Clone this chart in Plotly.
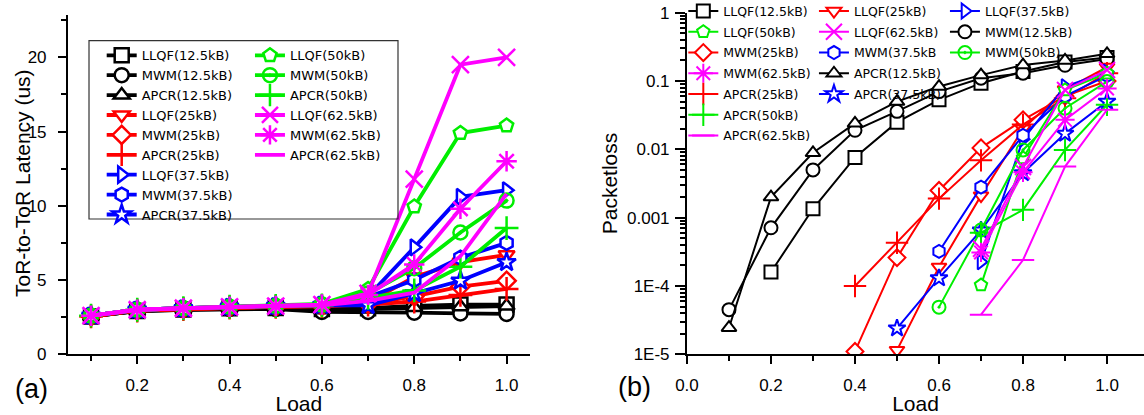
import plotly.graph_objects as go

# ---------------- data ----------------
load = [0.1, 0.2, 0.3, 0.4, 0.5, 0.6, 0.7, 0.8, 0.9, 1.0]

series_names = ["LLQF(12.5kB)", "MWM(12.5kB)", "APCR(12.5kB)",
                "LLQF(25kB)", "MWM(25kB)", "APCR(25kB)",
                "LLQF(37.5kB)", "MWM(37.5kB)", "APCR(37.5kB)",
                "LLQF(50kB)", "MWM(50kB)", "APCR(50kB)",
                "LLQF(62.5kB)", "MWM(62.5kB)", "APCR(62.5kB)"]
# legend labels of panel (b) as printed
loss_names = ["LLQF(12.5kB)", "MWM(12.5kB)", "APCR(12.5kB)",
              "LLQF(25kB)", "MWM(25kB)", "APCR(25kB)",
              "LLQF(37.5kB)", "MWM(37.5kB", "APCR(37.5kB)",
              "LLQF(50kB)", "MWM(50kB)", "APCR(50kB)",
              "LLQF(62.5kB)", "MWM(62.5kB)", "APCR(62.5kB)"]

# (a) ToR-to-ToR latency (us)
lat_llqf_12 = [2.55, 2.92, 3.02, 3.10, 3.12, 3.05, 3.10, 3.25, 3.35, 3.35]
lat_mwm_12 = [2.55, 2.90, 3.00, 3.05, 3.05, 2.85, 2.85, 2.80, 2.75, 2.72]
lat_apcr_12 = [2.55, 2.90, 3.00, 3.08, 3.10, 3.00, 3.05, 3.15, 3.20, 3.25]
lat_llqf_25 = [2.55, 2.95, 3.05, 3.15, 3.20, 3.30, 3.50, 5.20, 6.20, 6.70]
lat_mwm_25 = [2.55, 2.95, 3.05, 3.15, 3.20, 3.25, 3.40, 3.90, 4.55, 4.95]
lat_apcr_25 = [2.55, 2.95, 3.05, 3.15, 3.20, 3.25, 3.35, 3.55, 4.00, 4.40]
lat_llqf_37 = [2.60, 3.00, 3.10, 3.20, 3.25, 3.35, 3.90, 7.20, 10.6, 11.05]
lat_mwm_37 = [2.60, 3.00, 3.10, 3.20, 3.25, 3.35, 3.85, 5.00, 6.50, 7.50]
lat_apcr_37 = [2.60, 3.00, 3.10, 3.20, 3.25, 3.30, 3.30, 4.10, 4.95, 6.20]
lat_llqf_50 = [2.60, 3.00, 3.10, 3.20, 3.25, 3.40, 4.40, 9.95, 14.9, 15.4]
lat_mwm_50 = [2.60, 3.00, 3.10, 3.20, 3.25, 3.35, 4.10, 5.80, 8.20, 10.35]
lat_apcr_50 = [2.60, 3.00, 3.10, 3.20, 3.25, 3.30, 3.80, 4.30, 5.90, 8.50]
lat_llqf_62 = [2.60, 3.00, 3.10, 3.20, 3.25, 3.35, 4.10, 11.8, 19.5, 20.0]
lat_mwm_62 = [2.60, 3.00, 3.10, 3.20, 3.25, 3.35, 4.00, 6.05, 9.80, 13.0]
lat_apcr_62 = [2.60, 3.00, 3.10, 3.20, 3.25, 3.30, 3.60, 4.15, 6.60, 10.8]

# (b) packet loss
pl_llqf_12 = [None, 1.6e-4, 1.35e-3, 7.6e-3, 0.025, 0.053, 0.093, 0.138, 0.19, 0.22]
pl_mwm_12 = [4.5e-5, 7.1e-4, 5.0e-3, 0.019, 0.036, 0.07, 0.11, 0.13, 0.17, 0.21]
pl_apcr_12 = [2.45e-5, 2.0e-3, 8.9e-3, 0.024, 0.05, 0.083, 0.122, 0.171, 0.20, 0.25]
pl_llqf_25 = [None, None, None, None, 1.15e-5, 1.9e-4, 2.1e-3, 0.02, 0.075, 0.16]
pl_mwm_25 = [None, None, None, 1.1e-5, 2.6e-4, 2.5e-3, 0.0105, 0.027, 0.06, 0.10]
pl_apcr_25 = [None, None, None, 1.0e-4, 4.3e-4, 1.9e-3, 6.9e-3, 0.023, 0.056, 0.13]
pl_llqf_37 = [None, None, None, None, None, None, 2.25e-4, 0.014, 0.083, 0.137]
pl_mwm_37 = [None, None, None, None, None, 3.2e-4, 2.8e-3, 0.016, 0.06, 0.12]
pl_apcr_37 = [None, None, None, None, 2.4e-5, 1.3e-4, 6.5e-4, 4.5e-3, 0.017, 0.05]
pl_llqf_50 = [None, None, None, None, None, None, 1.03e-4, 7.5e-3, 0.074, 0.13]
pl_mwm_50 = [None, None, None, None, None, 4.9e-5, 6.6e-4, 9.8e-3, 0.04, 0.098]
pl_apcr_50 = [None, None, None, None, None, None, 6.0e-4, 1.3e-3, 9.8e-3, 0.045]
pl_llqf_62 = [None, None, None, None, None, None, 3.5e-4, 5.5e-3, 0.074, 0.145]
pl_mwm_62 = [None, None, None, None, None, None, 3.1e-4, 4.6e-3, 0.027, 0.078]
pl_apcr_62 = [None, None, None, None, None, None, 3.8e-5, 2.4e-4, 5.6e-3, 0.038]

latency = [lat_llqf_12, lat_mwm_12, lat_apcr_12, lat_llqf_25, lat_mwm_25, lat_apcr_25,
           lat_llqf_37, lat_mwm_37, lat_apcr_37, lat_llqf_50, lat_mwm_50, lat_apcr_50,
           lat_llqf_62, lat_mwm_62, lat_apcr_62]
loss = [pl_llqf_12, pl_mwm_12, pl_apcr_12, pl_llqf_25, pl_mwm_25, pl_apcr_25,
        pl_llqf_37, pl_mwm_37, pl_apcr_37, pl_llqf_50, pl_mwm_50, pl_apcr_50,
        pl_llqf_62, pl_mwm_62, pl_apcr_62]

loss_tickvals = [1e-5, 1e-4, 1e-3, 1e-2, 1e-1, 1]
loss_ticktext = ["1E-5", "1E-4", "0.001", "0.01", "0.1", "1"]

# ---------------- styles ----------------
colors = ["#000000"] * 3 + ["#FF0000"] * 3 + ["#0000FF"] * 3 + ["#00EE00"] * 3 + ["#FF00FF"] * 3
symbols = ["square", "circle", "triangle-up",
           "triangle-down", "diamond", "cross-thin",
           "triangle-right", "hexagon", "star",
           "pentagon", "circle-open-dot", "cross-thin",
           "x-thin", "asterisk", None]
LINE_SYMS = {"cross-thin", "x-thin", "asterisk", "line-ew"}

# legend placement of panel (b): legend id and rank per series
loss_legend = ["legend3", "legend5", "legend4",
               "legend4", "legend3", "legend3",
               "legend5", "legend4", "legend4",
               "legend3", "legend5", "legend3",
               "legend4", "legend3", "legend3"]
loss_rank = [1, 2, 4, 1, 3, 5, 1, 3, 5, 2, 3, 6, 2, 4, 7]

FONT = "Liberation Sans, Arial, sans-serif"
LFONT = "DejaVu Sans, Liberation Sans, sans-serif"


def marker_for(sym, col, size, lw):
    if sym is None:
        return dict(size=0), "lines"
    if sym in LINE_SYMS:
        return dict(symbol=sym, size=size + 3, color=col, line=dict(color=col, width=lw)), "lines+markers"
    if "-open" in sym:
        return dict(symbol=sym, size=size, color=col, line=dict(color=col, width=lw)), "lines+markers"
    return dict(symbol=sym, size=size, color="white", line=dict(color=col, width=lw)), "lines+markers"


fig = go.Figure()

# panel (a)
for i, name in enumerate(series_names):
    mk, mode = marker_for(symbols[i], colors[i], 14, 2.5)
    fig.add_trace(go.Scatter(
        x=load, y=latency[i], name=name, mode=mode,
        line=dict(color=colors[i], width=3.8), marker=mk,
        xaxis="x", yaxis="y",
        legend="legend" if i < 9 else "legend2",
    ))

# panel (b)
for i, name in enumerate(loss_names):
    sym = symbols[i] if symbols[i] is not None else "line-ew"
    mk, mode = marker_for(sym, colors[i], 13, 2)
    fig.add_trace(go.Scatter(
        x=load, y=loss[i], name=name, mode=mode,
        line=dict(color=colors[i], width=2), marker=mk,
        xaxis="x2", yaxis="y2",
        legend=loss_legend[i], legendrank=loss_rank[i], legendgroup="b" + name,
        connectgaps=False,
    ))

axis_common = dict(showline=True, linecolor="black", linewidth=2, showgrid=False,
                   zeroline=False, ticks="outside", tickcolor="black", tickwidth=1.5,
                   tickfont=dict(family=FONT, size=17, color="black"),
                   automargin=False)

leg_common = dict(bgcolor="rgba(0,0,0,0)", borderwidth=0, xanchor="left", yanchor="top",
                  orientation="v")

fig.update_layout(
    width=1144, height=415,
    margin=dict(l=0, r=0, t=0, b=0, autoexpand=False),
    paper_bgcolor="white", plot_bgcolor="white",
    font=dict(family=FONT, color="black"),
    xaxis=dict(domain=[0.0594, 0.4630], range=[0.05, 1.05], tick0=0, dtick=0.2,
               tickformat=".1f", ticklabelstandoff=6, ticklen=8,
               minor=dict(dtick=0.1, tick0=0, ticks="outside", ticklen=5, tickcolor="black"),
               title=dict(text="Load", font=dict(size=21), standoff=0), anchor="y",
               **axis_common),
    yaxis=dict(domain=[0.1463, 0.9639], range=[0, 22.85], dtick=5, tick0=0,
               ticklabelstandoff=8, ticklen=8,
               minor=dict(dtick=2.5, tick0=0, ticks="outside", ticklen=5, tickcolor="black"),
               anchor="x", **axis_common),
    xaxis2=dict(domain=[0.6005, 1.0], range=[0, 1.088], tick0=0, dtick=0.2,
                tickformat=".1f", ticklabelstandoff=6, ticklen=8,
                minor=dict(dtick=0.1, tick0=0, ticks="outside", ticklen=5, tickcolor="black"),
                title=dict(text="Load", font=dict(size=21), standoff=0), anchor="y2",
                **axis_common),
    yaxis2=dict(domain=[0.1463, 0.9694], type="log", range=[-5, 0],
                tickvals=loss_tickvals, ticktext=loss_ticktext, ticklabelstandoff=2,
                ticklen=10,
                minor=dict(dtick="D1", ticks="outside", ticklen=5, tickcolor="black"),
                title=dict(text="Packetloss", font=dict(size=21), standoff=4),
                anchor="x2", **axis_common),
    legend=dict(x=0.0889, y=0.9028, font=dict(family=LFONT, size=13, color="black"),
                traceorder="normal", **leg_common),
    legend2=dict(x=0.2185, y=0.9028, font=dict(family=LFONT, size=13, color="black"),
                 traceorder="normal", **leg_common),
    legend3=dict(x=0.5973, y=1.0087, font=dict(family=LFONT, size=12.5, color="black"),
                 traceorder="grouped", tracegroupgap=1.5, **leg_common),
    legend4=dict(x=0.7115, y=1.0087, font=dict(family=LFONT, size=12.5, color="black"),
                 traceorder="grouped", tracegroupgap=1.5, **leg_common),
    legend5=dict(x=0.8260, y=1.0087, font=dict(family=LFONT, size=12.5, color="black"),
                 traceorder="grouped", tracegroupgap=1.5, **leg_common),
    shapes=[dict(type="rect", xref="paper", yref="paper", x0=0.0778, x1=0.3479,
                 y0=0.4723, y1=0.9019, line=dict(color="#333333", width=1.2))],
    annotations=[
        dict(text="ToR-to-ToR Latency (us)", xref="paper", yref="paper",
             x=23 / 1144, y=(415 - 183) / 415, textangle=-90, showarrow=False,
             font=dict(family=FONT, size=21, color="black"),
             xanchor="center", yanchor="middle"),
        dict(text="(a)", xref="paper", yref="paper", x=0.0271, y=0.062, showarrow=False,
             font=dict(family=FONT, size=27, color="black"), xanchor="center", yanchor="middle"),
        dict(text="(b)", xref="paper", yref="paper", x=0.555, y=0.068, showarrow=False,
             font=dict(family=FONT, size=27, color="black"), xanchor="center", yanchor="middle"),
    ],
)

fig.write_html("out.html", config={"displayModeBar": False},
               post_script="document.body.style.margin='0';document.body.style.overflow='hidden';")
